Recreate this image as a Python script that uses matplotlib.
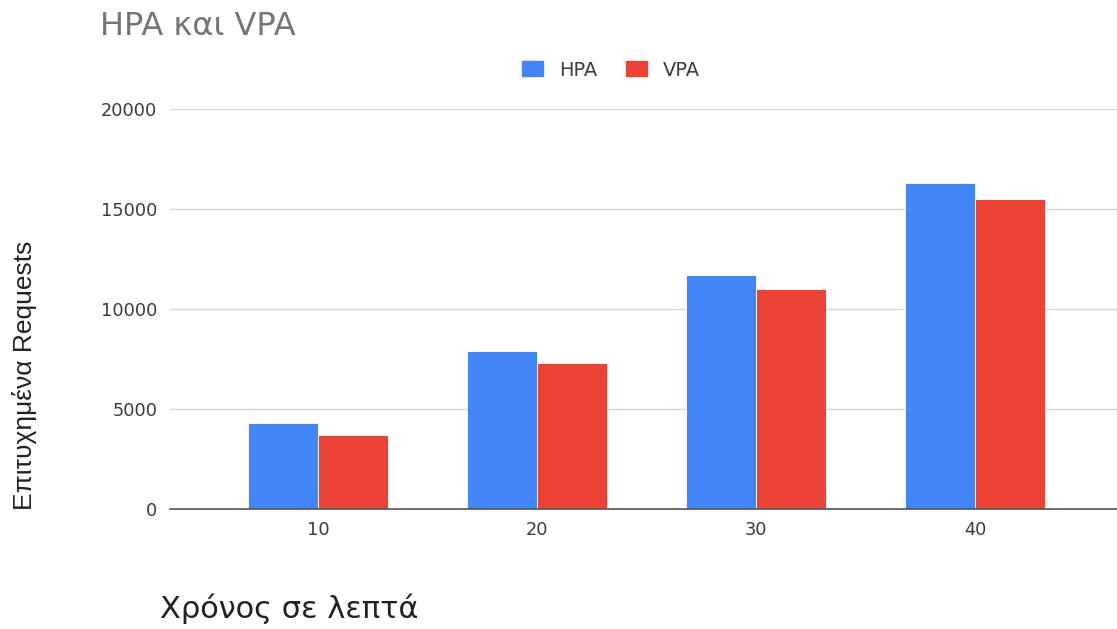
import numpy as np
import matplotlib.pyplot as plt
from matplotlib.patches import Patch

# Successful requests per time window
minutes = ["10", "20", "30", "40"]
hpa = [4300, 7900, 11700, 16300]
vpa = [3700, 7300, 11000, 15500]

HPA_COLOR = "#4285F4"
VPA_COLOR = "#EA4335"
W, H = 1117, 629

fig = plt.figure(figsize=(W / 100, H / 100), dpi=100)
ax = fig.add_axes([170 / W, 1 - 508.5 / H, (W - 170) / W, (508.5 - 109) / H])

x = np.arange(len(minutes))
bw = 0.32
ax.bar(x - bw / 2, hpa, bw, color=HPA_COLOR, edgecolor="white", linewidth=0.6, zorder=3)
ax.bar(x + bw / 2, vpa, bw, color=VPA_COLOR, edgecolor="white", linewidth=0.6, zorder=3)

ax.set_xlim(-0.676, 3.648)
ax.set_ylim(0, 20000)
ax.set_yticks([0, 5000, 10000, 15000, 20000])
ax.set_xticks(x)
ax.set_xticklabels(minutes)
ax.tick_params(axis="both", length=0, labelsize=12.8, colors="#3c3c3c",
               labelfontfamily="DejaVu Sans")
ax.tick_params(axis="y", pad=9)
ax.tick_params(axis="x", pad=9)
ax.grid(axis="y", color="#d9d9d9", linewidth=1, zorder=0)
for side in ["top", "right", "left"]:
    ax.spines[side].set_visible(False)
ax.spines["bottom"].set_color("#555555")
ax.spines["bottom"].set_linewidth(1.2)
ax.spines["bottom"].set_zorder(4)

fig.text(100 / W, 1 - 35 / H, "HPA και VPA", fontsize=23, color="#757575",
         family="DejaVu Sans", ha="left", va="baseline")

fig.text(25 / W, 1 - 375 / H, "Επιτυχημένα Requests", rotation=90, fontsize=19,
         color="#222222", family="Liberation Sans", ha="center", va="center")

fig.text(160 / W, 1 - 618 / H, "Χρόνος σε λεπτά", fontsize=22, color="#222222",
         family="DejaVu Sans", ha="left", va="baseline")

handles = [Patch(color=HPA_COLOR, label="HPA"), Patch(color=VPA_COLOR, label="VPA")]
fig.legend(handles=handles, loc="center", bbox_to_anchor=(611 / W, 1 - 70 / H), ncol=2,
           frameon=False, handlelength=1.08, handleheight=0.77, handletextpad=0.82,
           columnspacing=1.45, prop={"family": "DejaVu Sans", "size": 14},
           labelcolor="#3c3c3c")

fig.savefig("out.png", dpi=100)
